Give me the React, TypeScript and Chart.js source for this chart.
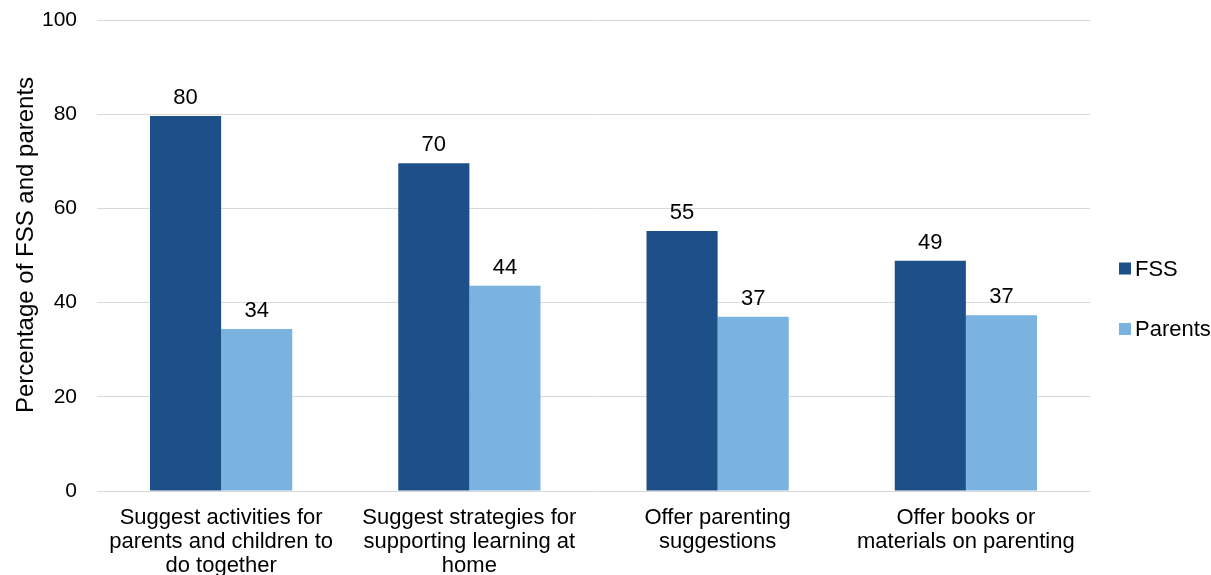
import React, { useEffect, useRef } from "react";
import { Chart, registerables } from "chart.js";
Chart.register(...registerables);

const categories: string[][] = [
  ["Suggest activities for", "parents and children to", "do together"],
  ["Suggest strategies for", "supporting learning at", "home"],
  ["Offer parenting", "suggestions"],
  ["Offer books or", "materials on parenting"],
];
const fssValues = [79.6, 69.6, 55.2, 48.9];
const parentsValues = [34.4, 43.6, 37.0, 37.3];
const seriesNames = ["FSS", "Parents"];
const seriesColors = ["#1D4F88", "#7AB3DF"];
const yTitle = "Percentage of FSS and parents";
const FONT = "'Liberation Sans', Arial, sans-serif";

export default function App() {
  const ref = useRef<HTMLCanvasElement>(null);
  useEffect(() => {
    document.body.style.margin = "0";
    const labelPlugin = {
      id: "vals",
      afterDatasetsDraw(chart: any) {
        const ctx = chart.ctx;
        ctx.save();
        ctx.font = `22px ${FONT}`;
        ctx.fillStyle = "#000";
        ctx.textAlign = "center";
        ctx.textBaseline = "alphabetic";
        chart.data.datasets.forEach((ds: any, i: number) => {
          const meta = chart.getDatasetMeta(i);
          meta.data.forEach((bar: any, j: number) => {
            ctx.fillText(String(Math.round(ds.data[j])), bar.x, bar.y - 12);
          });
        });
        ctx.restore();
      },
      afterDraw(chart: any) {
        const ctx = chart.ctx;
        ctx.save();
        ctx.font = `22px ${FONT}`;
        ctx.textBaseline = "middle";
        ctx.textAlign = "left";
        const ys = [268.5, 329];
        seriesNames.forEach((n, i) => {
          ctx.fillStyle = seriesColors[i];
          ctx.fillRect(1119, ys[i] - 6, 12, 12);
          ctx.fillStyle = "#000";
          ctx.fillText(n, 1135, ys[i] + 1);
        });
        // y-axis title
        ctx.save();
        ctx.translate(26, 245);
        ctx.rotate(-Math.PI / 2);
        ctx.font = `24px ${FONT}`;
        ctx.textAlign = "center";
        ctx.textBaseline = "middle";
        ctx.fillText(yTitle, 0, 0);
        ctx.restore();
        ctx.restore();
      },
    };
    const chart = new Chart(ref.current!, {
      type: "bar",
      data: {
        labels: categories,
        datasets: [
          { label: seriesNames[0], data: fssValues, backgroundColor: seriesColors[0], categoryPercentage: 0.573, barPercentage: 1 },
          { label: seriesNames[1], data: parentsValues, backgroundColor: seriesColors[1], categoryPercentage: 0.573, barPercentage: 1 },
        ],
      },
      options: {
        animation: false,
        responsive: false,
        maintainAspectRatio: false,
        layout: { padding: { top: 20, right: 121, left: 0, bottom: 0 } },
        plugins: { legend: { display: false }, tooltip: { enabled: false } },
        scales: {
          x: {
            grid: { display: false, drawTicks: false },
            border: { display: false },
            ticks: { color: "#000", font: { family: FONT, size: 22, lineHeight: 1.09 }, padding: 15, maxRotation: 0, autoSkip: false },
            afterFit: (s: any) => { s.height = 84; },
          },
          y: {
            min: 0,
            max: 100,
            grid: { color: "#D9D9D9", lineWidth: 1, drawTicks: false },
            border: { display: false },
            ticks: { stepSize: 20, color: "#000", font: { family: FONT, size: 21 }, padding: 20 },
            afterFit: (s: any) => { s.width = 97; s.paddingTop = 11; s.paddingBottom = 0; },
          },
        },
      },
      plugins: [labelPlugin],
    });
    return () => chart.destroy();
  }, []);
  return (
    <div style={{ width: 1211, height: 575, background: "#fff" }}>
      <canvas ref={ref} width={1211} height={575} style={{ display: "block" }} />
    </div>
  );
}
